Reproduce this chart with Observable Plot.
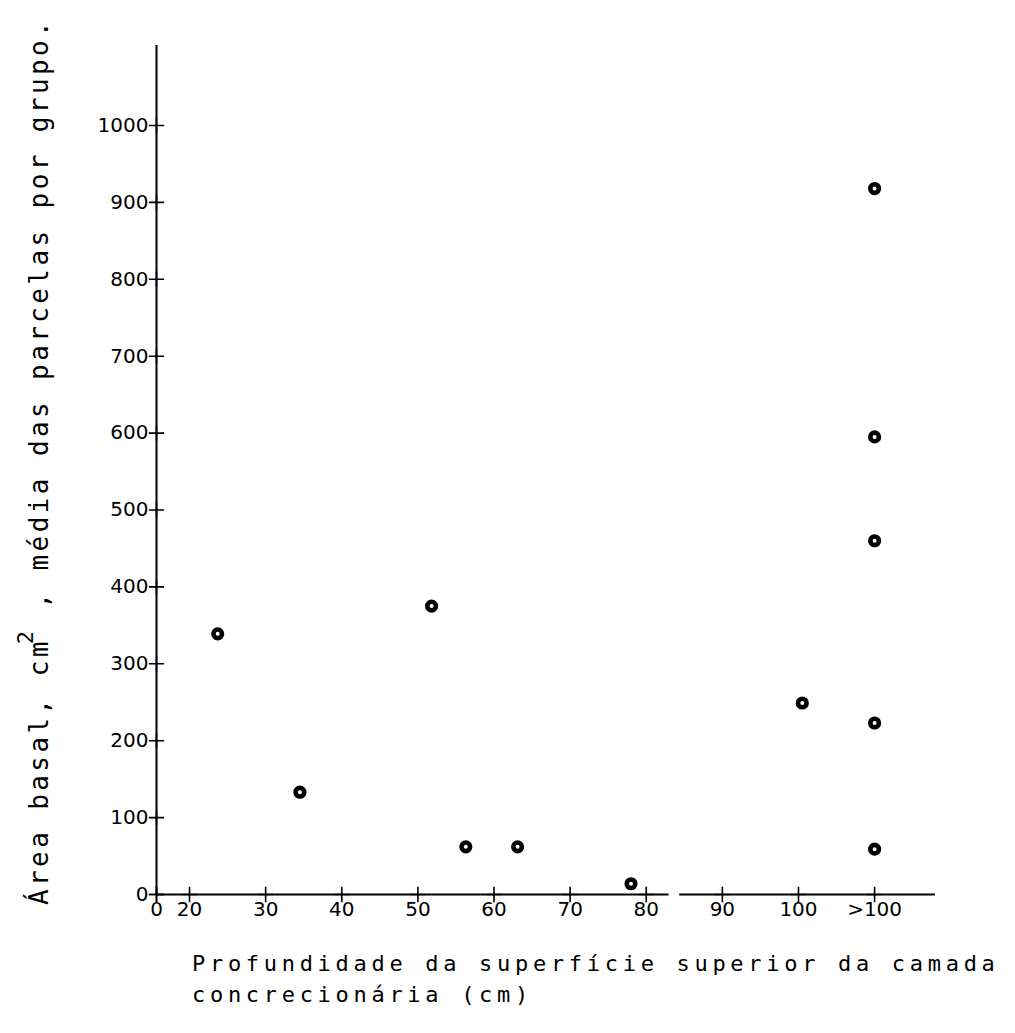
<!DOCTYPE html>
<html>
<head>
<meta charset="utf-8">
<script src="https://cdn.jsdelivr.net/npm/d3@7"></script>
<script src="https://cdn.jsdelivr.net/npm/@observablehq/plot@0.6"></script>
<style>
  html, body { margin: 0; padding: 0; background: #fff; }
</style>
</head>
<body>
<div id="chart"></div>
<script>
// Depth of the upper surface of the concretionary layer (cm); ">100" group is coded at 110
const depth = [23.7, 34.5, 51.8, 56.3, 63.1, 78, 100.5, 110, 110, 110, 110, 110];
// Basal area, cm², mean of plots per group
const basalArea = [339, 133, 375, 62, 62, 14, 249, 918, 595, 460, 223, 59];

const xTickValues = [0, 20, 30, 40, 50, 60, 70, 80, 90, 100, 110];
const xTickLabels = ["0", "20", "30", "40", "50", "60", "70", "80", "90", "100", ">100"];
const yTickValues = [0, 100, 200, 300, 400, 500, 600, 700, 800, 900, 1000];

const yLabelStart = "Área basal, cm";
const yLabelSup = "2";
const yLabelEnd = " , média das parcelas por grupo.";
const xLabelLines = ["Profundidade da superfície superior da camada", "concrecionária (cm)"];

// x axis is drawn in two pieces (small break between 80 and 90)
const xAxisSegments = [{from: 0, to: 83}, {from: 84.4, to: 118}];

// broken axis: the 0–20 stretch is compressed
const broken = d3.scaleLinear().domain([0, 20, 118]).range([0, 4.34, 102.34]);
const xTickU = xTickValues.map(broken);
const labelFor = u => {
  const i = xTickU.findIndex(t => Math.abs(t - u) < 1e-6);
  return i >= 0 ? xTickLabels[i] : "";
};

const data = depth.map((d, i) => ({u: broken(d), area: basalArea[i]}));
const segs = xAxisSegments.map(s => ({from: broken(s.from), to: broken(s.to)}));

const chart = Plot.plot({
  width: 1015,
  height: 1033,
  marginLeft: 156,
  marginRight: 80,
  marginTop: 45,
  marginBottom: 139,
  style: {fontFamily: "'DejaVu Sans', sans-serif", fontSize: "20px", color: "black", background: "white"},
  x: {
    type: "linear",
    domain: [0, broken(118)],
    ticks: xTickU,
    tickFormat: labelFor,
    tickSize: 0,
    tickPadding: 7,
    label: null
  },
  y: {
    type: "linear",
    domain: [0, 1104],
    ticks: yTickValues,
    tickFormat: d => `${d}`,
    tickSize: 0,
    tickPadding: 8,
    label: null
  },
  marks: [
    Plot.ruleX([0], {y1: 0, y2: 1104, stroke: "black", strokeWidth: 2}),
    Plot.ruleY(segs, {y: 0, x1: "from", x2: "to", stroke: "black", strokeWidth: 1.8}),
    Plot.dot(xTickU, {x: d => d, y: 0, symbol: "plus", r: 5, stroke: "black", strokeWidth: 1.6}),
    Plot.dot(yTickValues, {x: 0, y: d => d, symbol: "plus", r: 5, stroke: "black", strokeWidth: 1.6}),
    Plot.dot(data, {x: "u", y: "area", r: 4.3, stroke: "black", strokeWidth: 4.6, fill: "white"})
  ]
});

document.getElementById("chart").appendChild(chart);

const svg = d3.select(chart);
const yl = svg.append("text")
  .attr("transform", "translate(48,905) rotate(-90)")
  .attr("text-anchor", "start")
  .attr("font-family", "'DejaVu Sans Mono', monospace")
  .attr("font-size", 26)
  .attr("letter-spacing", 3.4)
  .attr("fill", "black");
yl.append("tspan").text(yLabelStart);
yl.append("tspan").attr("dx", -6).attr("dy", -15).attr("font-size", 22).text(yLabelSup);
yl.append("tspan").attr("dy", 15).text(yLabelEnd);

const xl = svg.append("text")
  .attr("text-anchor", "start")
  .attr("font-family", "'DejaVu Sans Mono', monospace")
  .attr("font-size", 22)
  .attr("letter-spacing", 4.7)
  .attr("fill", "black");
xLabelLines.forEach((line, i) => {
  xl.append("tspan").attr("x", 192).attr("y", 971 + i * 31).text(line);
});
</script>
</body>
</html>
